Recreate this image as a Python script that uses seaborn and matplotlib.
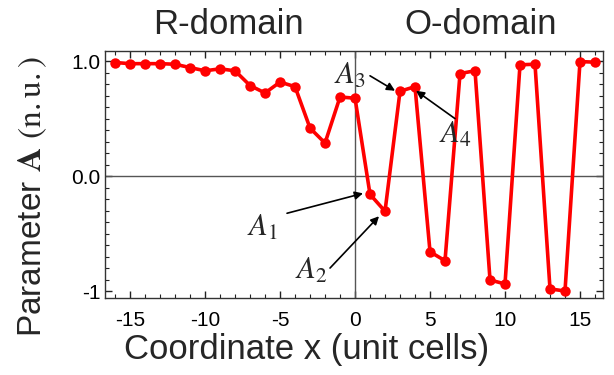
import numpy as np
import pandas as pd
import matplotlib
matplotlib.use("Agg")
import matplotlib.pyplot as plt
import seaborn as sns
from matplotlib.ticker import FixedLocator, FixedFormatter, MultipleLocator

coords = list(range(-16, 17))
param_a = [0.99, 0.98, 0.98, 0.98, 0.975, 0.946, 0.918, 0.935, 0.918, 0.79,
           0.725, 0.82, 0.78, 0.42, 0.29, 0.69, 0.68,
           -0.156, -0.303, 0.74, 0.78, -0.655, -0.733, 0.894, 0.918,
           -0.90, -0.935, 0.97, 0.975, -0.978, -0.996, 0.998, 0.993]
ytick_vals = [-1, 0, 1]
ytick_labels = ["-1", "0.0", "1.0"]
xtick_vals = [-15, -10, -5, 0, 5, 10, 15]
domain_labels = ["R-domain", "O-domain"]

sns.set_style("ticks")
plt.rcParams["font.family"] = ["Liberation Sans", "DejaVu Sans"]
plt.rcParams["mathtext.fontset"] = "stix"
plt.rcParams["axes.unicode_minus"] = False

df = pd.DataFrame({"x": coords, "A": param_a})

fig = plt.figure(figsize=(6.14, 3.75), dpi=100)
ax = fig.add_axes([0.171, 0.2053, 0.811, 0.6587])

ax.axhline(0, color="#555555", lw=1.0, zorder=1)
ax.axvline(0, color="#555555", lw=1.0, zorder=1)

sns.lineplot(data=df, x="x", y="A", ax=ax, color="#ff0000", lw=2.6,
             marker="o", markersize=7.5, markeredgewidth=0, zorder=3)

ax.set_xlim(-16.67, 16.53)
ax.set_ylim(-1.057, 1.09)
ax.xaxis.set_major_locator(FixedLocator(xtick_vals))
ax.xaxis.set_minor_locator(MultipleLocator(1))
ax.yaxis.set_major_locator(FixedLocator(ytick_vals))
ax.yaxis.set_major_formatter(FixedFormatter(ytick_labels))
ax.yaxis.set_minor_locator(MultipleLocator(0.1))
ax.tick_params(which="both", direction="in", top=True, right=True,
               labelsize=15, colors="#222222", labelcolor="black")
ax.tick_params(axis="x", which="major", pad=9)
ax.tick_params(which="major", length=5, width=1)
ax.tick_params(which="minor", length=3, width=0.8)
for s in ax.spines.values():
    s.set_color("#333333")
    s.set_linewidth(1.0)

ax.set_xlabel("Coordinate x (unit cells)", fontsize=25)
ax.xaxis.set_label_coords(0.405, -0.14)
ax.set_ylabel(r"Parameter $\mathbf{A}$ $\mathrm{(n.u.)}$", fontsize=24)
ax.yaxis.set_label_coords(-0.112, 0.41)

fig.text(228 / 614, 1 - 25 / 375, domain_labels[0], ha="center", va="center", fontsize=25)
fig.text(481 / 614, 1 - 25 / 375, domain_labels[1], ha="center", va="center", fontsize=25)

def px2data(px, py):
    return ((px - 355) / 15.0, (176 - py) / 115.5)

labels = [r"$A_1$", r"$A_2$", r"$A_3$", r"$A_4$"]
text_px = [(262, 228), (311, 271), (350, 75), (455, 134)]
tails = [(287, 213), (330, 268), (370, 75), (455, 118)]
tips = [(363, 193), (379, 216), (395, 90), (416, 90)]
for lab, tp, tl, tip in zip(labels, text_px, tails, tips):
    ax.text(*px2data(*tp), lab, fontsize=22, ha="center", va="center", zorder=5)
    ax.annotate("", xy=px2data(*tip), xytext=px2data(*tl),
                arrowprops=dict(arrowstyle="-|>", color="black", lw=1.2,
                                mutation_scale=12, shrinkA=0, shrinkB=0),
                zorder=5)

fig.savefig("out.png", dpi=100)
